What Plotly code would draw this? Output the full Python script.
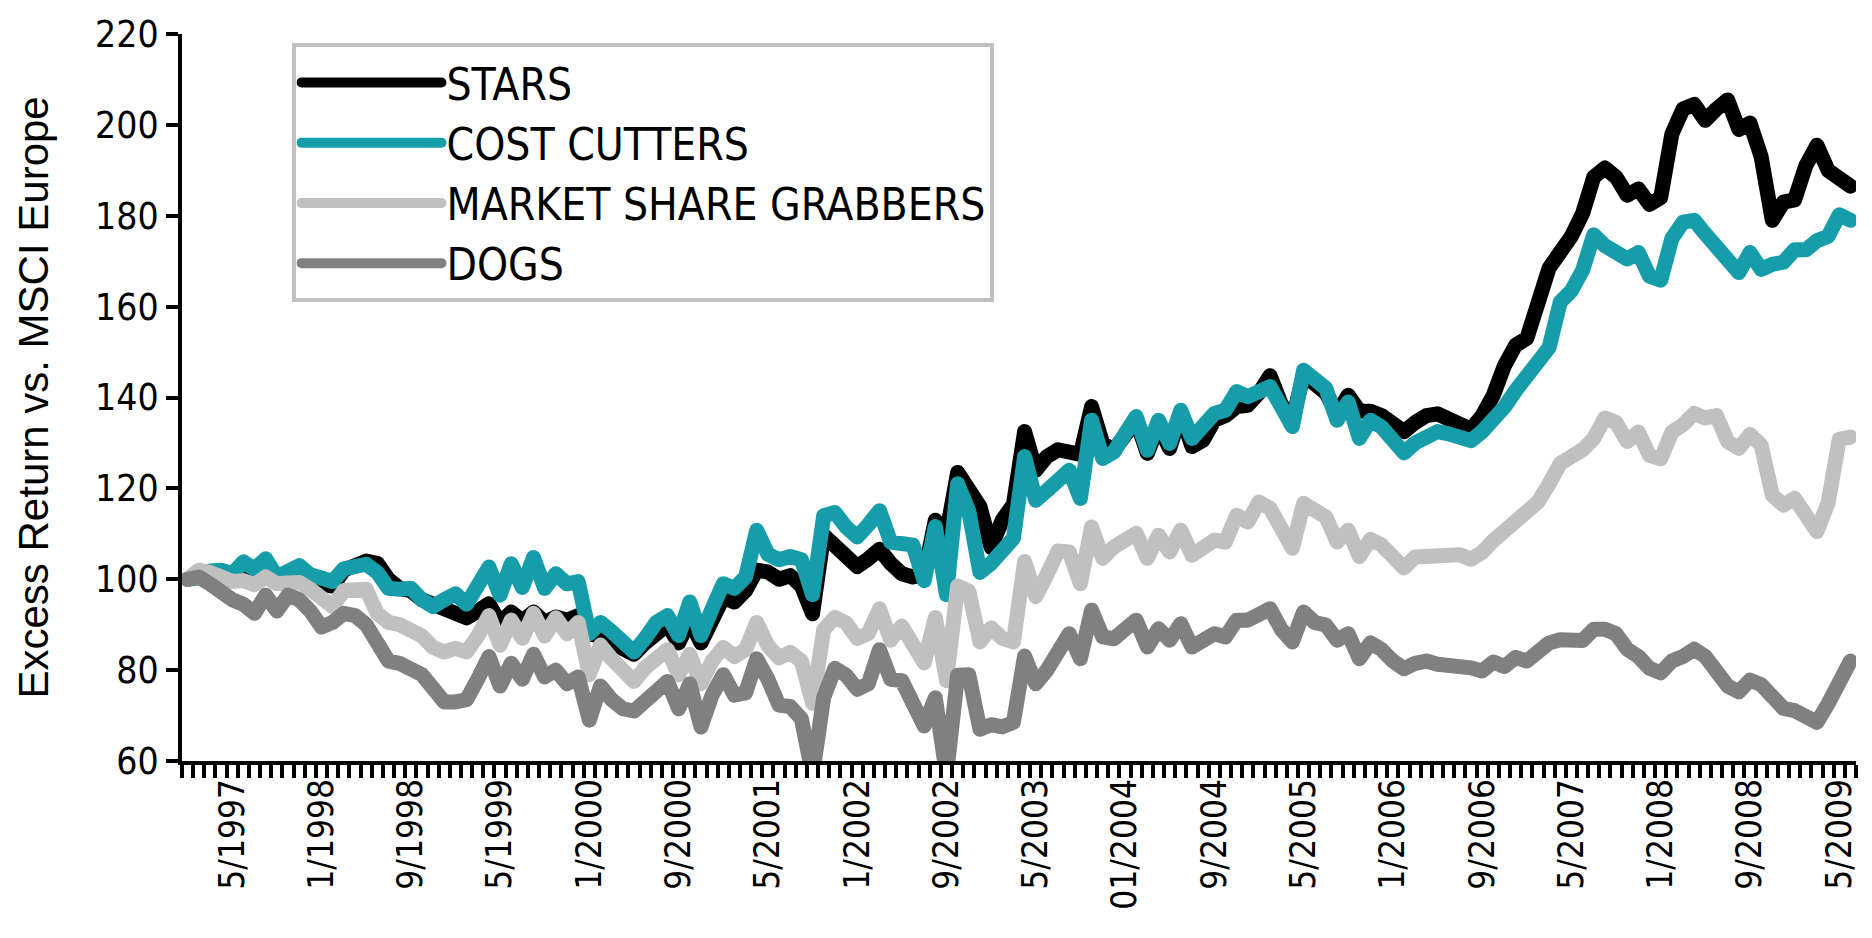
import pandas as pd
import plotly.graph_objects as go

# monthly observations, 1/1997 .. 6/2009
months = pd.date_range("1997-01-01", "2009-06-01", freq="MS")

stars = [
    100, 100.5, 101.5, 101.5, 100.5, 102.5, 101.5, 103, 100, 101.5,
    102, 100, 99, 98.5, 102, 103, 104, 103.5, 100, 98,
    97.5, 95.5, 94.5, 93.5, 92, 91.5, 93, 94.6, 90.3, 92.8,
    90.8, 92.8, 90.5, 91.7, 91, 92, 88, 87.5, 86, 84.5,
    83.5, 86, 88.5, 90, 86, 91, 86, 92, 96, 95,
    97.5, 102, 101.6, 100, 100.8, 98.5, 92.4, 109.7, 107, 104.5,
    102.8, 104.5, 106.6, 103.5, 101.2, 100.5, 101, 113, 110, 123.5,
    120, 116, 107, 113, 116.5, 132.5, 124, 127, 128.5, 128,
    127.5, 138, 129.9, 128.4, 131.5, 135, 127.7, 133.9, 128.8, 136.5,
    129.2, 130.6, 135, 136, 138, 138.3, 141, 144.8, 138.5, 135,
    145, 142.5, 141, 136.5, 140.5, 137, 137, 136, 134.5, 132.5,
    134.5, 136, 136.4, 135.5, 134.2, 133, 136, 140.5, 147, 151.5,
    153, 161, 168.5, 172, 175.5, 180.5, 188.5, 190.5, 188.5, 184.5,
    185.9, 182.5, 184, 198, 203.5, 204.5, 201, 203.5, 205.5, 199,
    200.4, 193, 179, 183, 183.5, 191, 195.5, 190, 188, 186.5,
]

cost_cutters = [
    100, 100.3, 101.8, 102, 101.2, 103.8, 102.3, 104.5, 100.5, 102,
    103, 101, 100, 99.5, 102.3, 102.7, 103.3, 101.5, 98, 97.8,
    98, 95.5, 94, 95.5, 96.8, 94.5, 98.5, 102.7, 96.5, 103.4,
    98.2, 104.8, 98, 101.2, 99, 99.5, 88, 90.5, 88.5, 86.5,
    84, 87, 90.5, 92, 87.6, 95, 87.6, 93.5, 99, 98,
    100.5, 110.8, 105.5, 104.3, 105, 104.3, 96.6, 114, 114.7, 111.5,
    109.3, 112, 115.1, 108.2, 108, 107.5, 99.7, 111.6, 96.6, 121,
    115, 101.5, 103.5, 106, 109, 127, 117.4, 119.5, 121.5, 124,
    117.8, 135, 126.6, 128, 132, 135.8, 128.4, 135, 129.9, 137.2,
    131, 134, 136.5, 137.2, 141.3, 140.2, 141.3, 142.4, 138, 133.6,
    146, 143.5, 142, 135, 139, 131, 135, 133.5, 130.5, 127.8,
    130, 131.5, 132.5, 132, 131.5, 130.5, 132.5, 135, 137.9, 141.5,
    144.5, 147, 151, 161, 163.5, 168, 175.8, 173.4, 172, 170.5,
    171.9, 166.7, 165.8, 175, 178.6, 179, 176, 173.4, 170.3, 167.5,
    171.9, 168.2, 169.3, 169.8, 172.5, 172.5, 174.5, 175.5, 180.2, 179,
]

share_grabbers = [
    100, 102, 101.5, 100.8, 99.5, 99.7, 98.8, 100.5, 99, 99.2,
    99.3, 97.8, 95.5, 94, 97.5, 98, 97.8, 92.5, 90.5, 90,
    88.5, 87.5, 85, 84, 84.8, 84, 87.5, 92, 85.5, 91,
    87, 92.5, 87.5, 91.5, 88, 90.5, 79, 85.5, 82.5, 80,
    77.5, 80.5, 83, 84.5, 79, 83.5, 77, 82, 85, 83,
    84.5, 90.5, 85.4, 82.7, 83.9, 82, 72.7, 88.9, 91.6, 90.4,
    87, 88.1, 93.5, 86.6, 89.7, 85.4, 81.6, 91.6, 77.7, 98.5,
    97.4, 86.2, 89.3, 87, 86.2, 103.9, 96.2, 101, 106.2, 106,
    99, 111.5, 104.6, 107.1, 108.5, 110.1, 104.6, 109.7, 106, 110.8,
    105.3, 107.5, 108.6, 108.2, 114.1, 112.6, 117, 115.6, 111, 106.8,
    116.7, 115, 113.7, 108.2, 110.8, 105, 108.8, 107.5, 105.5, 102.5,
    104.9, 105.2, 105.4, 105.4, 105.4, 104.4, 105.9, 108.5, 110.5, 113.5,
    115.5, 117, 121, 125.5, 127, 128.5, 131, 135.5, 134.5, 130.3,
    132.4, 127.2, 126.5, 132.4, 134, 136.5, 135.5, 136, 130.3, 128.8,
    131.9, 129.5, 118.5, 116.3, 117.8, 114, 110.5, 116.8, 130.8, 131.3,
]

dogs = [
    100, 100.5, 99, 97, 95.5, 94.5, 92.5, 96.5, 93, 96.5,
    95.5, 93, 89.5, 90.5, 92.5, 92, 90, 86, 82, 81.5,
    80, 79, 76, 73, 73, 73.5, 78, 83, 76.5, 81.5,
    78, 83.5, 78.5, 80, 77, 78.5, 69, 76.5, 73.5, 71.5,
    71, 73, 76, 77.5, 71.5, 77, 67.5, 74.5, 79, 74.5,
    75, 82.5, 78, 72.3, 72, 69.3, 57, 74, 80.4, 78.9,
    75.8, 77, 84.5, 78, 77.7, 71.6, 67.7, 73.9, 57, 78.9,
    79, 67, 68, 67.5, 68.5, 83.1, 77, 80, 83.5, 88,
    82.5, 93.2, 87.3, 86.9, 89, 91, 85.1, 89.1, 86.6, 90.2,
    85.1, 87, 88, 87.3, 91, 91, 92, 93.5, 89, 86.2,
    92.8, 90.5, 89.9, 86.6, 88, 82.5, 86, 84.5, 82, 80.3,
    81.5, 82, 81.3, 81.3, 81, 80.5, 79.8, 81.8, 80.8, 82.8,
    82, 84.5, 86, 86.7, 86.3, 86.5, 89, 89, 88, 84.6,
    83, 80.4, 79.4, 82, 83, 84.6, 83, 80, 76.5, 75.2,
    77.8, 76.8, 73.6, 71.6, 71.1, 70, 68.5, 72.6, 77.3, 82,
]

tick_months = [
    "1997-05", "1998-01", "1998-09", "1999-05", "2000-01", "2000-09", "2001-05",
    "2002-01", "2002-09", "2003-05", "2004-01", "2004-09", "2005-05", "2006-01",
    "2006-09", "2007-05", "2008-01", "2008-09", "2009-05",
]
tick_labels = [
    "5/1997", "1/1998", "9/1998", "5/1999", "1/2000", "9/2000", "5/2001",
    "1/2002", "9/2002", "5/2003", "01/2004", "9/2004", "5/2005", "1/2006",
    "9/2006", "5/2007", "1/2008", "9/2008", "5/2009",
]

NARROW = "Liberation Sans Narrow, DejaVu Sans Condensed, Arial Narrow, sans-serif"

x = list(range(len(months)))
tickvals = [months.get_loc(pd.Timestamp(m)) for m in tick_months]

series = [
    ("STARS", stars, "#000000"),
    ("COST CUTTERS", cost_cutters, "#169DAA"),
    ("MARKET SHARE GRABBERS", share_grabbers, "#C0C0C0"),
    ("DOGS", dogs, "#808080"),
]

fig = go.Figure()
for name, vals, color in series:
    fig.add_trace(go.Scatter(x=x, y=vals, mode="lines", name=name,
                             line=dict(color=color, width=15)))

fig.update_layout(
    width=1872, height=938,
    margin=dict(l=182, r=16, t=34, b=177),
    plot_bgcolor="white", paper_bgcolor="white",
    showlegend=True,
    legend=dict(x=0.066, y=0.987, xanchor="left", yanchor="top",
                bordercolor="#C0C0C0", borderwidth=4, bgcolor="white",
                font=dict(family=NARROW, size=44, color="black"),
                itemwidth=140, tracegroupgap=0),
)

fig.update_xaxes(
    range=[-0.5, len(months) - 0.5], automargin=False,
    tickmode="array", tickvals=tickvals, ticktext=tick_labels, tickangle=-90,
    ticks="", ticklen=0,
    tickfont=dict(family=NARROW, size=35, color="black"),
    showline=True, linecolor="black", linewidth=4,
    showgrid=False, zeroline=False,
    minor=dict(tickmode="linear", tick0=-0.5, dtick=1, ticks="outside",
               ticklen=13, tickwidth=3.5, tickcolor="black", showgrid=False),
)
fig.update_yaxes(
    range=[60, 220], dtick=20, automargin=False,
    ticks="outside", ticklen=12, tickwidth=4, tickcolor="black",
    tickfont=dict(family=NARROW, size=37, color="black"),
    showline=True, linecolor="black", linewidth=4,
    showgrid=False, zeroline=False,
)

fig.add_annotation(
    text="Excess Return vs. MSCI Europe", textangle=-90,
    xref="paper", yref="paper", x=0, y=0.5, xshift=-149,
    xanchor="center", yanchor="middle", showarrow=False,
    font=dict(family="Liberation Sans, Arial, sans-serif", size=42, color="black"),
)

# no page margin, rounded line joins like the original
css = ("body{margin:0 !important;}"
       ".js-line{stroke-linejoin:round !important;stroke-linecap:round !important;}")
post = ("var s=document.createElement('style');s.textContent='" + css +
        "';document.head.appendChild(s);")
fig.write_html("out.html", post_script=post, config={"displayModeBar": False})
